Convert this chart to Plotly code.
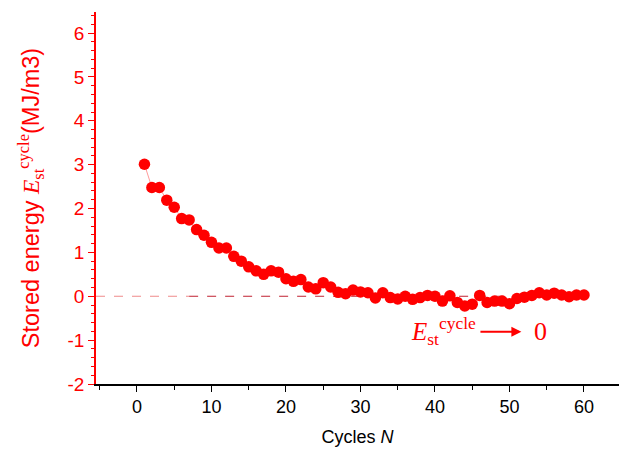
import plotly.graph_objects as go

cycles = list(range(1, 61))
energy = [3.01, 2.48, 2.48, 2.19, 2.03, 1.77, 1.74, 1.52, 1.39, 1.23,
          1.10, 1.10, 0.91, 0.80, 0.67, 0.58, 0.50, 0.58, 0.55, 0.40,
          0.34, 0.38, 0.21, 0.17, 0.31, 0.21, 0.09, 0.06, 0.14, 0.10,
          0.08, -0.04, 0.08, -0.03, -0.06, 0.00, -0.07, -0.03, 0.02, 0.00,
          -0.11, 0.01, -0.14, -0.22, -0.18, 0.02, -0.14, -0.11, -0.11, -0.17,
          -0.05, -0.02, 0.02, 0.08, 0.03, 0.07, 0.03, -0.01, 0.03, 0.03]
x_ticks = [0, 10, 20, 30, 40, 50, 60]
y_ticks = [-2, -1, 0, 1, 2, 3, 4, 5, 6]
y_ticktext = ["-2", "-1", "0", "1", "2", "3", "4", "5", "6"]
zero_left = [-5.5, 7]
zero_right = [7, 60]

RED = "#ff0000"
fig = go.Figure()
fig.add_trace(go.Scatter(x=zero_left, y=[0, 0], mode="lines",
                         line=dict(color="#f08a8a", width=1.2, dash="dash"),
                         showlegend=False, hoverinfo="skip"))
fig.add_trace(go.Scatter(x=zero_right, y=[0, 0], mode="lines",
                         line=dict(color="#c02030", width=1, dash="dash"),
                         showlegend=False, hoverinfo="skip"))
fig.add_trace(go.Scatter(x=cycles, y=energy, mode="lines+markers",
                         line=dict(color="#ff9a9a", width=1),
                         marker=dict(color=RED, size=11.5, line=dict(width=0)),
                         showlegend=False))

serif = "Liberation Serif"
fig.add_annotation(x=41.2, y=-0.80, xref="x", yref="y", showarrow=False,
                   text="<i>E</i><sub>st</sub><sup>cycle</sup>",
                   font=dict(family=serif, size=25, color=RED),
                   xanchor="center", yanchor="middle")
fig.add_annotation(x=51.6, y=-0.81, ax=45.9, ay=-0.81, xref="x", yref="y",
                   axref="x", ayref="y", showarrow=True, arrowhead=2,
                   arrowsize=1.0, arrowwidth=2, arrowcolor=RED, text="")
fig.add_annotation(x=54.1, y=-0.80, xref="x", yref="y", showarrow=False,
                   text="0", font=dict(family=serif, size=26, color=RED),
                   xanchor="center", yanchor="middle")

fig.update_layout(
    width=626, height=450,
    margin=dict(l=96, r=7, t=12, b=66),
    plot_bgcolor="white", paper_bgcolor="white",
    font=dict(family="Arial, Liberation Sans", size=17, color="black"),
    xaxis=dict(range=[-5.5, 64.7], tickvals=x_ticks, showgrid=False,
               zeroline=False, showline=True, linecolor="black", linewidth=1.5,
               ticks="outside", ticklen=6, tickwidth=1.2, tickcolor="black",
               minor=dict(dtick=5, tick0=0, ticks="outside", ticklen=4,
                          tickwidth=1.2, tickcolor="black"),
               tickfont=dict(size=18, color="black"),
               title=dict(text="Cycles <i>N</i>", font=dict(size=18, color="black"),
                          standoff=14)),
    yaxis=dict(range=[-2, 6.48], tickvals=y_ticks, ticktext=y_ticktext,
               showgrid=False,
               zeroline=False, showline=True, linecolor=RED, linewidth=1.5,
               ticks="outside", ticklen=6, tickwidth=1.2, tickcolor=RED,
               minor=dict(dtick=0.2, tick0=0, ticks="outside", ticklen=3,
                          tickwidth=1, tickcolor=RED),
               tickfont=dict(size=19, color=RED),
               title=dict(text="Stored energy <span style='font-family:Liberation Serif'><i>E</i><sub>st</sub><sup>cycle</sup></span>(MJ/m3)",
                          font=dict(size=23.5, color=RED), standoff=21)),
)

fig.write_html("out.html")
